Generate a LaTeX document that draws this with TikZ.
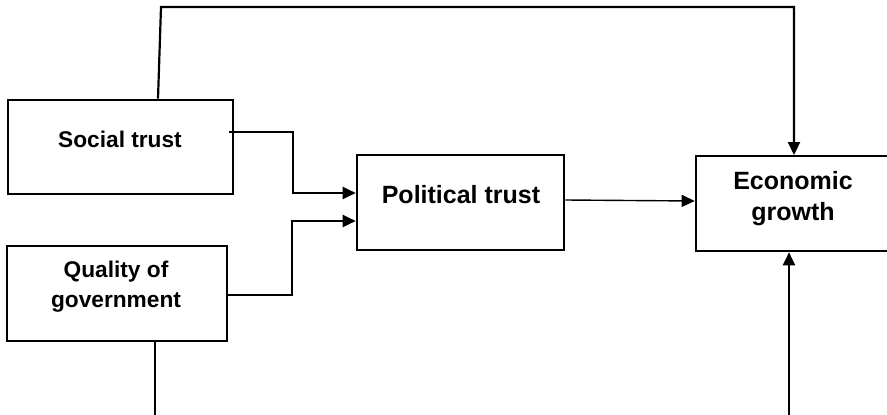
\documentclass[tikz,border=0pt]{standalone}
\usepackage{fontspec}
\setmainfont{Liberation Sans}
\usetikzlibrary{arrows.meta}
\begin{document}
\begin{tikzpicture}[x=1pt,y=-1pt,
  box/.style={draw,line width=2.6pt,rectangle,inner sep=0pt},
  lbl/.style={font=\bfseries,align=center,inner sep=0pt},
  conn/.style={line width=2.2pt,line join=miter},
  tip/.style={-{Triangle[length=13pt,width=12pt]}}]
\useasboundingbox (0,0) rectangle (887,415);
\clip (0,0) rectangle (887,415);
% boxes
\node[box,minimum width=225pt,minimum height=94pt] (st) at (120.5,147) {};
\node[box,minimum width=220pt,minimum height=95pt] (qg) at (117,293.5) {};
\node[box,minimum width=207pt,minimum height=95pt] (pt) at (460.5,202.5) {};
\node[box,minimum width=200pt,minimum height=95pt] (eg) at (796,203.5) {};
% texts
\node[lbl,anchor=base,font=\bfseries\fontsize{22.7}{30}\selectfont] (stt) at (120,147) {Social trust};
\node[lbl,anchor=base,font=\bfseries\fontsize{22.7}{30}\selectfont] (qgt) at (116,307) {Quality of\\government};
\node[lbl,anchor=base,font=\bfseries\fontsize{25}{31}\selectfont] (ptt) at (461,203) {Political trust};
\node[lbl,anchor=base,font=\bfseries\fontsize{25}{31}\selectfont] (egt) at (793,220) {Economic\\growth};
% connectors
\coordinate (c1) at (161,7);
\draw[conn,tip] ([xshift=37.5pt]st.north) -- (c1) -- (794,7) -- (794,155);
\draw[conn,tip] (229,132) -- (293,132) -- (293,193) -- (pt.west |- 0,193);
\draw[conn,tip] (qg.east |- 0,295) -- (292,295) -- (292,221) -- (pt.west |- 0,221);
\draw[line width=1.4pt,tip] (pt.east |- 0,200) -- (eg.west |- 0,201);
\coordinate (c2) at (155,417);
\draw[conn,tip] ([xshift=38pt]qg.south) -- (c2) -- (789,417) -- (eg.south -| 789,0);
\end{tikzpicture}
\end{document}
